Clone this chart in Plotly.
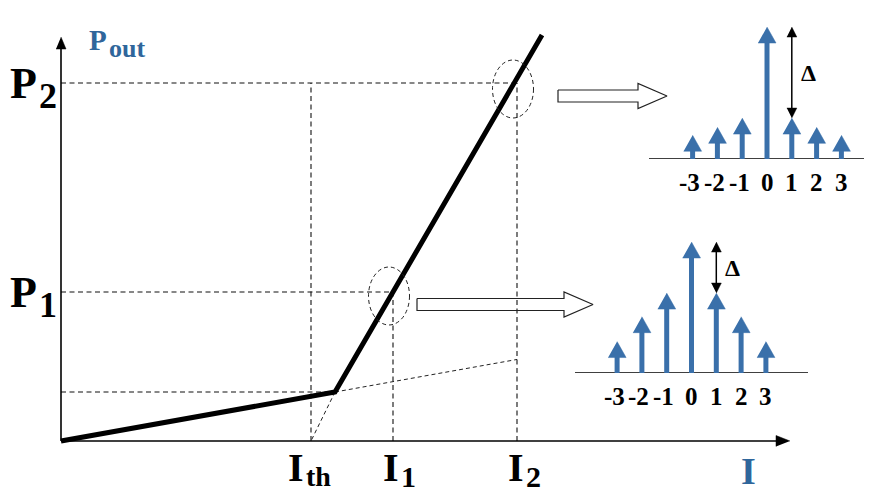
import plotly.graph_objects as go

REF_W, REF_H = 872, 494
OFF = 8                      # default page body margin of the html page
W, H = REF_W - OFF, REF_H - OFF

# ---------------- data ----------------
# main P-I characteristic
I_curve = [0.0, 1.096, 1.924]          # origin, knee, end of lasing line
P_curve = [0.0, 0.49, 4.06]
I_th = 1.0
I_ops = [1.328, 1.824]                 # I1, I2
P_ops = [1.49, 3.58]                   # P1, P2
I_label_main = ["I", "I", "I"]
I_label_sub = ["th", "1", "2"]
P_label_main = ["P", "P"]
P_label_sub = ["1", "2"]
I_axis_max = 2.916
P_axis_max = 4.04

ellipse_I = [1.312, 1.808]
ellipse_P = [1.45, 3.52]
ellipse_dI = 0.082
ellipse_dP = 0.29

arrow_I_start = [1.424, 1.988]          # hollow arrows: [P1 -> spectrum, P2 -> spectrum]
arrow_I_tip = [2.128, 2.424]
arrow_P = [1.365, 3.45]

modes = [-3, -2, -1, 0, 1, 2, 3]
mode_labels = ["-3", "-2", "-1", "0", "1", "2", "3"]
amp_P2 = [0.18, 0.24, 0.31, 1.0, 0.31, 0.24, 0.18]
amp_P1 = [0.24, 0.43, 0.61, 1.0, 0.61, 0.43, 0.24]

# ---------------- geometry (reference pixels) ----------------
BLUE = "#3a70aa"
TXTBLUE = "#2f669b"
FONT = "Liberation Serif"


def axis_setup(x0_ref, x1_ref, xzero_ref, ppu_x, yzero_ref, ytop_ref, ppu_y):
    xdom = [(x0_ref - OFF) / W, (x1_ref - OFF) / W]
    xr = [(x0_ref - xzero_ref) / ppu_x, (x1_ref - xzero_ref) / ppu_x]
    ydom = [1 - (yzero_ref - OFF) / H, 1 - (ytop_ref - OFF) / H]
    yr = [0, (yzero_ref - ytop_ref) / ppu_y]
    return xdom, xr, ydom, yr


# main axes: whole figure
m_ppx, m_ppy = 250.0, 100.0
m_x0, m_y0 = 61, 441
main_xdom = [0, 1]
main_xr = [(OFF - m_x0) / m_ppx, (REF_W - m_x0) / m_ppx]
main_ydom = [0, 1]
main_yr = [-(REF_H - m_y0) / m_ppy, (m_y0 - OFF) / m_ppy]

sp2 = axis_setup(649, 872, 767, 24.8, 159, OFF, 132.0)
sp1 = axis_setup(575, 808, 691.5, 24.8, 373, 200, 131.0)


def head(xt, yt, direction, L, Wd, sx, sy):
    if direction == "up":
        return [xt - Wd / 2 / sx, xt + Wd / 2 / sx, xt, None], [yt - L / sy, yt - L / sy, yt, None]
    if direction == "down":
        return [xt - Wd / 2 / sx, xt + Wd / 2 / sx, xt, None], [yt + L / sy, yt + L / sy, yt, None]
    return [xt - L / sx, xt - L / sx, xt, None], [yt - Wd / 2 / sy, yt + Wd / 2 / sy, yt, None]


fig = go.Figure()
msx, msy = m_ppx, m_ppy

dl = dict(color="#111111", width=1.1, dash="5px,3.5px")

# horizontal dashed guides
hx, hy = [], []
for Iv, Pv in [(I_curve[1], P_curve[1]), (I_ops[0], P_ops[0]), (I_ops[1], P_ops[1])]:
    hx += [0, Iv, None]
    hy += [Pv, Pv, None]
# vertical dashed guides
hx += [I_th, I_th, None, I_ops[0], I_ops[0], None, I_ops[1], I_ops[1], None]
hy += [0, P_ops[1], None, 0, P_ops[0], None, 0, P_ops[1], None]
fig.add_trace(go.Scatter(x=hx, y=hy, mode="lines", line=dl))

# extrapolations (thin dashed)
slope_sub = P_curve[1] / I_curve[1]
ex = [I_curve[1], I_ops[1], None, I_curve[1], I_th]
ey = [P_curve[1], slope_sub * I_ops[1], None, P_curve[1], 0]
fig.add_trace(go.Scatter(x=ex, y=ey, mode="lines",
                         line=dict(color="#222222", width=1, dash="4px,3px")))

# axes lines with arrow heads
fig.add_trace(go.Scatter(x=[0, I_axis_max - 10 / msx, None, 0, 0],
                         y=[0, 0, None, 0, P_axis_max - 9 / msy],
                         mode="lines", line=dict(color="black", width=1.6)))
ax_hx, ax_hy = head(I_axis_max, 0, "right", 14, 11, msx, msy)
ay_hx, ay_hy = head(0, P_axis_max, "up", 12, 10, msx, msy)
fig.add_trace(go.Scatter(x=ax_hx + ay_hx, y=ax_hy + ay_hy, mode="lines", fill="toself",
                         fillcolor="black", line=dict(color="black", width=0.5)))

# main curve
fig.add_trace(go.Scatter(x=I_curve, y=P_curve, mode="lines",
                         line=dict(color="black", width=5)))

# hollow arrows
hax, hay = [], []
for x0, xt, yc in zip(arrow_I_start, arrow_I_tip, arrow_P):
    xb = xt - 29 / msx
    bh, hh = 6 / msy, 12.5 / msy
    hax += [x0, xb, xb, xt, xb, xb, x0, x0, None]
    hay += [yc + bh, yc + bh, yc + hh, yc, yc - hh, yc - bh, yc - bh, yc + bh, None]
fig.add_trace(go.Scatter(x=hax, y=hay, mode="lines", line=dict(color="#222222", width=1.2)))

# ellipses
for cx, cy in zip(ellipse_I, ellipse_P):
    fig.add_shape(type="circle", xref="x", yref="y",
                  x0=cx - ellipse_dI, x1=cx + ellipse_dI, y0=cy - ellipse_dP, y1=cy + ellipse_dP,
                  line=dict(color="#222222", width=1, dash="4px,3px"))

# spectra
for amps, xa, ya, (xdom, xr, ydom, yr) in [
    (amp_P2, "x2", "y2", sp2),
    (amp_P1, "x3", "y3", sp1),
]:
    sx = W * (xdom[1] - xdom[0]) / (xr[1] - xr[0])
    sy = H * (ydom[1] - ydom[0]) / (yr[1] - yr[0])
    HL, HW = 16, 18
    fig.add_trace(go.Scatter(x=xr, y=[0, 0], mode="lines", line=dict(color="black", width=1.5),
                             xaxis=xa, yaxis=ya))
    stx, sty, phx, phy = [], [], [], []
    for m, a in zip(modes, amps):
        stx += [m, m, None]
        sty += [0, a - (HL - 2) / sy, None]
        hx_, hy_ = head(m, a, "up", HL, HW, sx, sy)
        phx += hx_
        phy += hy_
    fig.add_trace(go.Scatter(x=stx, y=sty, mode="lines", line=dict(color=BLUE, width=5),
                             xaxis=xa, yaxis=ya))
    fig.add_trace(go.Scatter(x=phx, y=phy, mode="lines", fill="toself", fillcolor=BLUE,
                             line=dict(color=BLUE, width=0.5), xaxis=xa, yaxis=ya))
    # delta arrow between mode 0 and mode 1 levels
    top, low = amps[modes.index(0)], amps[modes.index(1)]
    dL, dW = 10, 10
    fig.add_trace(go.Scatter(x=[1, 1], y=[low + dL / sy, top - dL / sy], mode="lines",
                             line=dict(color="black", width=1.5), xaxis=xa, yaxis=ya))
    t1x, t1y = head(1, top, "up", dL, dW, sx, sy)
    t2x, t2y = head(1, low, "down", dL, dW, sx, sy)
    fig.add_trace(go.Scatter(x=t1x + t2x, y=t1y + t2y, mode="lines", fill="toself",
                             fillcolor="black", line=dict(color="black", width=0.5),
                             xaxis=xa, yaxis=ya))
    fig.add_annotation(x=1, y=(top + low) / 2, xref=xa, yref=ya, text="Δ", showarrow=False,
                       xanchor="left", yanchor="middle", xshift=7,
                       font=dict(family=FONT, size=24, color="black", weight="bold"))
    for m, lab in zip(modes, mode_labels):
        fig.add_annotation(x=m, y=0, xref=xa, yref=ya, text=lab, showarrow=False,
                           xanchor="center", yanchor="middle", yshift=-23,
                           xshift=-3 if m < 0 else 0,
                           font=dict(family=FONT, size=25, color="black", weight="bold"))


def txt(x, y, text, size, color, xanchor, xshift, yshift):
    fig.add_annotation(x=x, y=y, xref="x", yref="y", text=text, showarrow=False,
                       xanchor=xanchor, yanchor="middle", xshift=xshift, yshift=yshift,
                       borderpad=0,
                       font=dict(family=FONT, size=size, color=color, weight="bold"))


# P labels left of the vertical axis
for main, sub, Pv in zip(P_label_main, P_label_sub, P_ops):
    txt(0, Pv, main, 44, "black", "right", -23, 0)
    txt(0, Pv, sub, 36, "black", "left", -23, -13)

# I labels under the horizontal axis (right edge of the main letter, relative to line)
I_main_dx = [-6, 7, 8]
for main, sub, Iv, dx in zip(I_label_main, I_label_sub, [I_th] + I_ops, I_main_dx):
    txt(Iv, 0, main, 40, "black", "right", dx, -26)
    txt(Iv, 0, sub, 28 if sub == "th" else 30, "black", "left", dx, -35)

# axis titles
txt(0, P_axis_max, "P", 29, TXTBLUE, "left", 27, -3)
txt(0, P_axis_max, "out", 26, TXTBLUE, "left", 47, -11)
txt(I_axis_max, 0, "I", 38, TXTBLUE, "center", -42, -30)

ax_common = dict(visible=False, fixedrange=True, showgrid=False, zeroline=False)
fig.update_layout(
    width=W, height=H, margin=dict(l=0, r=0, t=0, b=0),
    paper_bgcolor="white", plot_bgcolor="rgba(0,0,0,0)", showlegend=False,
    xaxis=dict(domain=main_xdom, range=main_xr, anchor="y", **ax_common),
    yaxis=dict(domain=main_ydom, range=main_yr, anchor="x", **ax_common),
    xaxis2=dict(domain=sp2[0], range=sp2[1], anchor="y2", **ax_common),
    yaxis2=dict(domain=sp2[2], range=sp2[3], anchor="x2", **ax_common),
    xaxis3=dict(domain=sp1[0], range=sp1[1], anchor="y3", **ax_common),
    yaxis3=dict(domain=sp1[2], range=sp1[3], anchor="x3", **ax_common),
)
fig.update_traces(hoverinfo="skip", cliponaxis=False)
fig.write_html("out.html")
